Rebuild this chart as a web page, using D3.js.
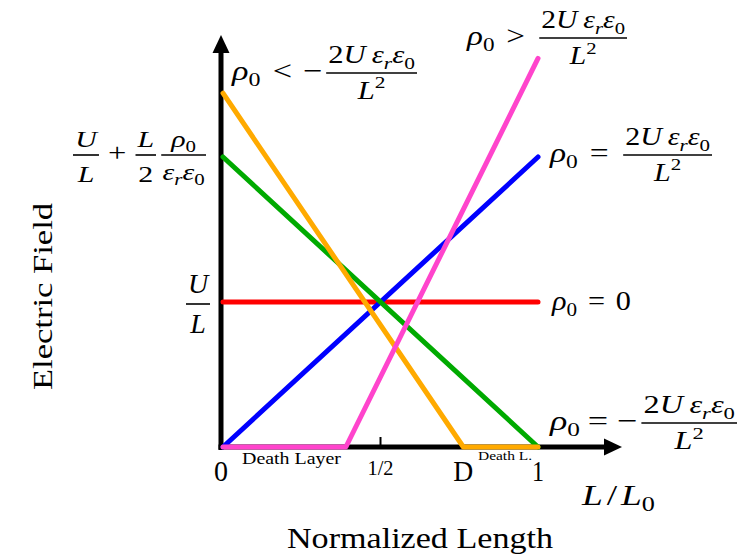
<!DOCTYPE html>
<html>
<head>
<meta charset="utf-8">
<script src="https://cdn.jsdelivr.net/npm/d3@7"></script>
<style>
  html, body { margin: 0; padding: 0; background: #fff; }
  svg { display: block; }
  text { font-family: "Liberation Serif", "Times New Roman", serif; fill: #000; }
</style>
</head>
<body>
<svg id="chart" width="738" height="557"></svg>
<script>
// Field profiles across the gap: x = L/L0 (0..1), y = E in units of U/L
const zeroChargePts   = [[0, 1], [1, 1]];               // rho0 = 0
const posCriticalPts  = [[0, 0], [1, 2]];               // rho0 = 2U er e0 / L^2
const negCriticalPts  = [[0, 2], [1, 0]];               // rho0 = -2U er e0 / L^2
const strongNegPts    = [[0, 2.44], [0.763, 0], [1, 0]]; // rho0 < -2U er e0 / L^2
const strongPosPts    = [[0, 0], [0.39, 0], [1, 2.68]];  // rho0 > 2U er e0 / L^2

const seriesColors = ["#ff0000", "#0000ff", "#00aa00", "#ffaa00", "#ff44cc"];

const xTickValues = [0, 0.5, 0.763, 1];
const xTickLabels = ["0", "1/2", "D", "1"];
const yTickValues = [1, 2];

const svg = d3.select("#chart");
const x = d3.scaleLinear().domain([0, 1]).range([223, 538]);
const y = d3.scaleLinear().domain([0, 1]).range([447, 302]);

// ---------- small math typesetting helpers ----------
// parts: [text, kind]  kind: "i" italic, "r" roman, "subi"/"subr" subscript, "supr" superscript
function mathText(parent, parts, size, anchor) {
  const t = parent.append("text")
    .attr("font-size", size)
    .attr("text-anchor", anchor || "start");
  let shift = 0;
  parts.forEach(([s, k]) => {
    let target = 0, fs = size;
    if (k.startsWith("sub")) { target = 0.22 * size; fs = 0.7 * size; }
    else if (k.startsWith("sup")) { target = -0.42 * size; fs = 0.7 * size; }
    const ts = t.append("tspan").text(s).attr("font-size", fs);
    if (target - shift !== 0) ts.attr("dy", target - shift);
    shift = target;
    if (k.endsWith("i")) ts.attr("font-style", "italic");
  });
  return t;
}

// fraction centred on x=0 with its bar at y=0
function frac(parent, num, den, size, numGap, denGap, pad) {
  const g = parent.append("g");
  const n = mathText(g, num, size, "middle").attr("y", -numGap);
  const d = mathText(g, den, size, "middle").attr("y", denGap);
  const w = Math.max(n.node().getBBox().width, d.node().getBBox().width) + pad;
  g.append("line").attr("x1", -w / 2).attr("x2", w / 2)
    .attr("stroke", "#000").attr("stroke-width", 1.6);
  return { g, w };
}

// lay items out left to right around a math axis line, then stretch the
// whole row horizontally to the requested width (a wide math face look)
function mathRow(parent, x0, axisY, items, width) {
  const row = parent.append("g");
  let cx = 0;
  items.forEach(it => {
    cx += it.gap || 0;
    if (it.frac) {
      const f = frac(row, it.frac[0], it.frac[1], it.size, it.numGap, it.denGap, it.pad || 2);
      f.g.attr("transform", `translate(${cx + f.w / 2},${axisY})`);
      cx += f.w;
    } else {
      const t = mathText(row, it.parts, it.size, "start")
        .attr("x", cx).attr("y", axisY + 0.26 * it.size);
      cx += t.node().getComputedTextLength();
    }
  });
  const sx = width ? width / cx : 1;
  row.attr("transform", `translate(${x0},0) scale(${sx},1)`);
  return row;
}

const numer2U = [["2", "r"], ["U", "i"], ["\u2009", "r"], ["\u03b5", "i"], ["r", "subi"], ["\u03b5", "i"], ["0", "subr"]];
const denomL2 = [["L", "i"], ["2", "supr"]];
const rho0 = [["\u03c1", "i"], ["0", "subr"]];
const MS = 28;   // main math size
const FS = 25;   // fraction content size

// ---------- data lines ----------
const series = [zeroChargePts, posCriticalPts, negCriticalPts, strongNegPts, strongPosPts];
const line = d3.line().x(d => x(d[0])).y(d => y(d[1]));
svg.append("g").selectAll("path")
  .data(series)
  .join("path")
  .attr("d", line)
  .attr("fill", "none")
  .attr("stroke", (d, i) => seriesColors[i])
  .attr("stroke-width", 5)
  .attr("stroke-linecap", "round")
  .attr("stroke-linejoin", "round");

// ---------- axes ----------
const axes = svg.insert("g", ":first-child");
const x0px = 221, base = y(0);
axes.append("line").attr("x1", x0px).attr("x2", x0px).attr("y1", base + 3).attr("y2", 50)
  .attr("stroke", "#000").attr("stroke-width", 5);
axes.append("path").attr("d", `M${x0px},35 L${x0px - 8.5},53 L${x0px + 8.5},53 Z`).attr("fill", "#000");
axes.append("line").attr("x1", x0px - 2.5).attr("x2", 608).attr("y1", base).attr("y2", base)
  .attr("stroke", "#000").attr("stroke-width", 5);
axes.append("path").attr("d", `M622,${base} L604,${base - 8.5} L604,${base + 8.5} Z`).attr("fill", "#000");
// tick mark at the midpoint only
axes.append("line").attr("x1", x(0.5)).attr("x2", x(0.5)).attr("y1", base).attr("y2", base - 10)
  .attr("stroke", "#000").attr("stroke-width", 2);

// ---------- x tick labels ----------
const tickSizes = [29, 20, 29, 29];
const tickBase = [481, 475, 481, 481];
const tickWidths = [14, 26, 20, 12];
svg.append("g").selectAll("text")
  .data(xTickValues)
  .join("text")
  .attr("x", (d, i) => (i === 0 ? x0px : x(d)) - tickWidths[i] / 2)
  .attr("y", (d, i) => tickBase[i])
  .attr("font-size", (d, i) => tickSizes[i])
  .attr("textLength", (d, i) => tickWidths[i])
  .attr("lengthAdjust", "spacingAndGlyphs")
  .text((d, i) => xTickLabels[i]);

// death layer captions
svg.append("text").attr("x", 242).attr("y", 464).attr("font-size", 17)
  .attr("textLength", 99).attr("lengthAdjust", "spacingAndGlyphs").text("Death Layer");
svg.append("text").attr("x", 478).attr("y", 460).attr("font-size", 13)
  .attr("textLength", 54).attr("lengthAdjust", "spacingAndGlyphs").text("Death L.");

// ---------- y tick labels ----------
// E = U/L
mathRow(svg, 186, y(yTickValues[0]) + 2, [
  { frac: [[["U", "i"]], [["L", "i"]]], size: MS, numGap: 11, denGap: 29, pad: 2 }
], 24);
// E = U/L + (L/2) rho0/(er e0)
mathRow(svg, 73, y(yTickValues[1]) - 2, [
  { frac: [[["U", "i"]], [["L", "i"]]], size: 23, numGap: 8, denGap: 27, pad: 2 },
  { parts: [["+", "r"]], size: 25, gap: 7 },
  { frac: [[["L", "i"]], [["2", "r"]]], size: 23, numGap: 8, denGap: 27, pad: 2, gap: 7 },
  { frac: [rho0, [["\u03b5", "i"], ["r", "subi"], ["\u03b5", "i"], ["0", "subr"]]], size: 23, numGap: 8, denGap: 25, pad: 2, gap: 4 }
], 133);

// ---------- case labels ----------
mathRow(svg, 232, 73, [
  { parts: rho0, size: MS },
  { parts: [["<", "r"]], size: MS, gap: 10 },
  { parts: [["\u2212", "r"]], size: MS, gap: 9 },
  { frac: [numer2U, denomL2], size: FS, numGap: 10, denGap: 26, pad: 3, gap: 3 }
], 185);
mathRow(svg, 467, 38, [
  { parts: rho0, size: MS },
  { parts: [[">", "r"]], size: MS, gap: 10 },
  { frac: [numer2U, denomL2], size: FS, numGap: 10, denGap: 26, pad: 3, gap: 12 }
], 160);
mathRow(svg, 550, 155, [
  { parts: rho0, size: MS },
  { parts: [["=", "r"]], size: MS, gap: 10 },
  { frac: [numer2U, denomL2], size: FS, numGap: 10, denGap: 26, pad: 3, gap: 12 }
], 162);
mathRow(svg, 552, 303, [
  { parts: rho0, size: MS },
  { parts: [["=", "r"]], size: MS, gap: 10 },
  { parts: [["0", "r"]], size: MS, gap: 10 }
], 79);
mathRow(svg, 550, 423, [
  { parts: rho0, size: MS },
  { parts: [["=", "r"]], size: MS, gap: 6 },
  { parts: [["\u2212", "r"]], size: MS, gap: 7 },
  { frac: [numer2U, denomL2], size: FS, numGap: 10, denGap: 26, pad: 3, gap: 3 }
], 187);

// ---------- axis titles ----------
mathRow(svg, 582, 497, [
  { parts: [["L", "i"]], size: 29 },
  { parts: [["/", "r"]], size: 29, gap: 3 },
  { parts: [["L", "i"], ["0", "subr"]], size: 29, gap: 3 }
], 73);
svg.append("text").attr("x", 287).attr("y", 548).attr("font-size", 30)
  .attr("textLength", 266).attr("lengthAdjust", "spacingAndGlyphs").text("Normalized Length");
svg.append("text").attr("transform", "translate(52,390) rotate(-90)")
  .attr("font-size", 28).attr("textLength", 187).attr("lengthAdjust", "spacingAndGlyphs")
  .text("Electric Field");
</script>
</body>
</html>
